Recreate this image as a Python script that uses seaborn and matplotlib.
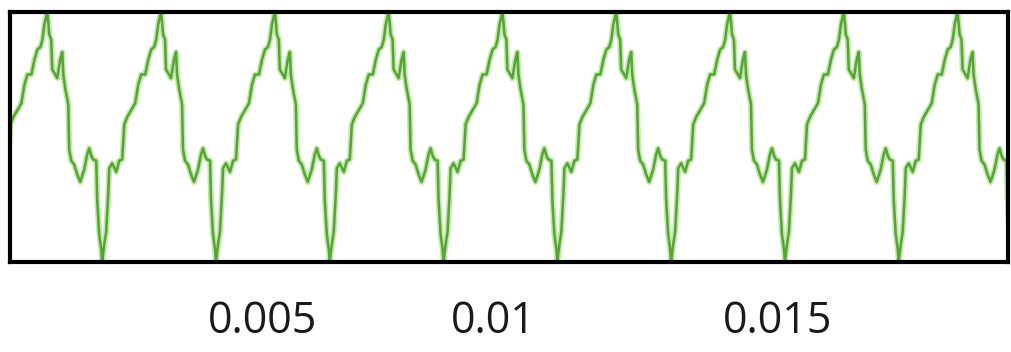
import numpy as np
import pandas as pd
import matplotlib
matplotlib.use("Agg")
import matplotlib.pyplot as plt
import matplotlib.transforms as mtransforms
import seaborn as sns

# One cycle of the waveform, starting at its crest:
# phase as a fraction of the cycle, level normalised to the crest amplitude
cycle_phase = [0.000, 0.009, 0.018, 0.035, 0.044, 0.070, 0.088, 0.114, 0.132, 0.141,
               0.158, 0.185, 0.193, 0.211, 0.237, 0.264, 0.290, 0.325, 0.351, 0.369,
               0.387, 0.404, 0.431, 0.439, 0.457, 0.475, 0.483, 0.501, 0.518, 0.536,
               0.545, 0.571, 0.606, 0.633, 0.659, 0.677, 0.703, 0.747, 0.773, 0.800,
               0.826, 0.861, 0.888, 0.914, 0.940, 0.958, 0.975]
cycle_level = [1.00, 0.92, 0.82, 0.78, 0.54, 0.50, 0.47, 0.62, 0.68, 0.50,
               0.39, 0.26, -0.10, -0.19, -0.22, -0.30, -0.36, -0.26, -0.14, -0.09,
               -0.15, -0.18, -0.19, -0.50, -0.78, -0.90, -1.00, -0.86, -0.76, -0.46,
               -0.25, -0.21, -0.28, -0.19, -0.18, 0.10, 0.16, 0.23, 0.27, 0.42,
               0.50, 0.50, 0.62, 0.70, 0.72, 0.78, 0.90]

period_s = 0.00221        # length of one cycle (s)
first_crest_s = 0.00081   # time of the first crest (s)
cycle_index = list(range(-1, 9))

x_ticks = [0.005, 0.01, 0.015]
x_tick_labels = ["0.005", "0.01", "0.015"]
x_limits = (0.000087, 0.01947)
y_limits = (-1.0, 1.0)

# Lay the cycles end to end
t_vals, v_vals = [], []
for k in cycle_index:
    for ph, lv in zip(cycle_phase, cycle_level):
        t_vals.append(first_crest_s + (k + ph) * period_s)
        v_vals.append(lv)
signal = pd.DataFrame({"time": t_vals, "level": v_vals})

sns.set_style("white")
plt.rcParams["font.family"] = ["Open Sans", "DejaVu Sans"]

fig = plt.figure(figsize=(10.11, 3.52), dpi=100)
ax = fig.add_axes([10 / 1011, 1 - 262 / 352, 998 / 1011, 250 / 352])

# soft glow under the trace, then the trace itself
sns.lineplot(data=signal, x="time", y="level", ax=ax, sort=False, estimator=None,
             color="#a6e283", linewidth=4.2, alpha=0.7)
sns.lineplot(data=signal, x="time", y="level", ax=ax, sort=False, estimator=None,
             color="#58a23a", linewidth=1.8)

ax.set_xlim(*x_limits)
ax.set_ylim(*y_limits)
ax.set_xlabel("")
ax.set_ylabel("")
ax.set_yticks([])
ax.set_xticks(x_ticks)
ax.set_xticklabels(x_tick_labels, fontsize=31, color="#1a1a1a")
ax.tick_params(axis="x", length=0, pad=27)

# the middle label sits a little left of its tick
mid = ax.get_xticklabels()[1]
mid.set_transform(mid.get_transform() +
                  mtransforms.ScaledTranslation(-0.27, 0, fig.dpi_scale_trans))

for s in ax.spines.values():
    s.set_visible(True)
    s.set_color("black")
    s.set_linewidth(3.0)

fig.savefig("out.png", dpi=100, facecolor="white")
